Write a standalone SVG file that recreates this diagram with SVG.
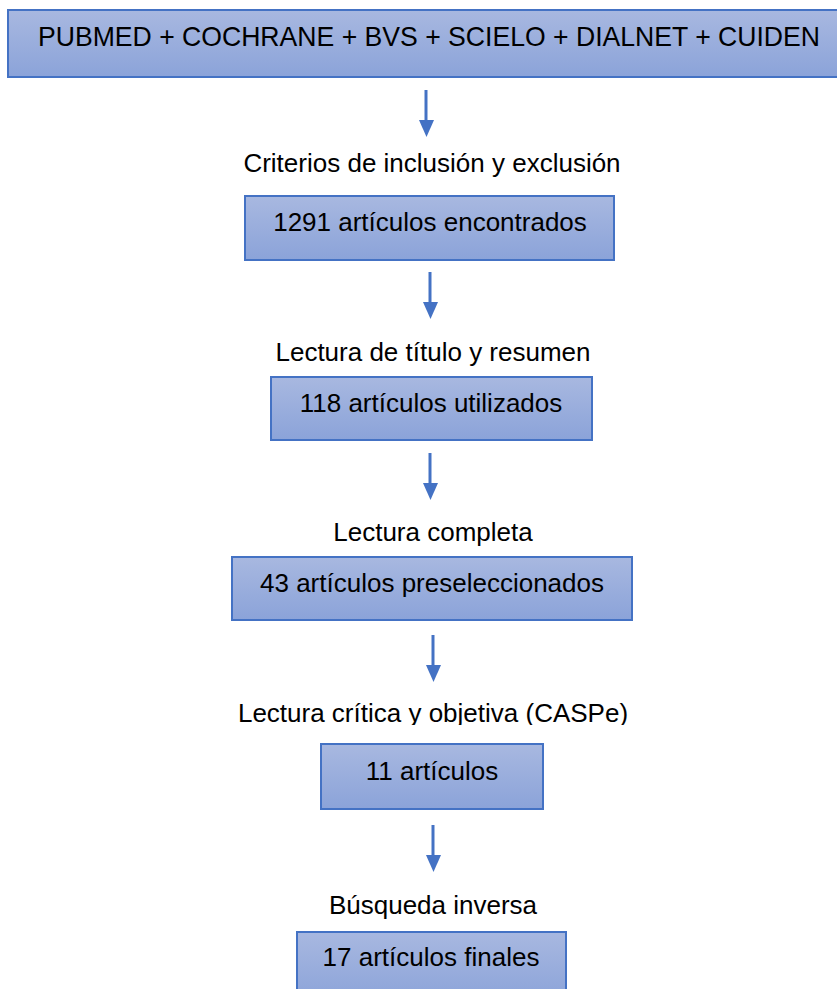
<svg xmlns="http://www.w3.org/2000/svg" width="837" height="989" viewBox="0 0 837 989">
<style>
.box{fill:url(#g);stroke:#4472C4;stroke-width:2}
.t{font-family:"Liberation Sans",Arial,sans-serif;font-size:26px;fill:#000;text-anchor:middle}
.ar{stroke:#4472C4;stroke-width:3;fill:none}
.hd{fill:#4472C4}
</style>
<defs>
<linearGradient id="g" x1="0" y1="0" x2="0" y2="1">
<stop offset="0" stop-color="#A8B8E0"/>
<stop offset="1" stop-color="#8BA3D9"/>
</linearGradient>
<clipPath id="c5"><rect x="0" y="690" width="837" height="35"/></clipPath>
</defs>
<rect width="837" height="989" fill="#fff"/>
<g id="connectors">
<line class="ar" x1="426" y1="90" x2="426" y2="122"/><polygon class="hd" points="419,120 434,120 426.5,137"/>
<line class="ar" x1="430" y1="272" x2="430" y2="304"/><polygon class="hd" points="423,302 438,302 430.5,319"/>
<line class="ar" x1="430" y1="453" x2="430" y2="485"/><polygon class="hd" points="423,483 438,483 430.5,500"/>
<line class="ar" x1="433" y1="635" x2="433" y2="667"/><polygon class="hd" points="426,665 441,665 433.5,682"/>
<line class="ar" x1="433" y1="825" x2="433" y2="857"/><polygon class="hd" points="426,855 441,855 433.5,872"/>
</g>
<g id="n1">
<rect class="box" x="8" y="10" width="835" height="67"/>
<text class="t" x="429" y="46" style="font-size:28px" textLength="782" lengthAdjust="spacingAndGlyphs">PUBMED + COCHRANE + BVS + SCIELO + DIALNET + CUIDEN</text>
</g>
<g id="l1"><text class="t" x="432" y="172">Criterios de inclusión y exclusión</text></g>
<g id="n2">
<rect class="box" x="245" y="196" width="369" height="64"/>
<text class="t" x="430" y="231">1291 artículos encontrados</text>
</g>
<g id="l2"><text class="t" x="433" y="361">Lectura de título y resumen</text></g>
<g id="n3">
<rect class="box" x="271" y="377" width="321" height="63"/>
<text class="t" x="431" y="412">118 artículos utilizados</text>
</g>
<g id="l3"><text class="t" x="433" y="541">Lectura completa</text></g>
<g id="n4">
<rect class="box" x="232" y="557" width="400" height="63"/>
<text class="t" x="432" y="592">43 artículos preseleccionados</text>
</g>
<g id="l4"><text class="t" x="433" y="722" clip-path="url(#c5)">Lectura crítica y objetiva (CASPe)</text></g>
<g id="n5">
<rect class="box" x="321" y="744" width="222" height="65"/>
<text class="t" x="432" y="780">11 artículos</text>
</g>
<g id="l5"><text class="t" x="433" y="914">Búsqueda inversa</text></g>
<g id="n6">
<rect class="box" x="297" y="932" width="269" height="70"/>
<text class="t" x="431" y="966">17 artículos finales</text>
</g>
</svg>
